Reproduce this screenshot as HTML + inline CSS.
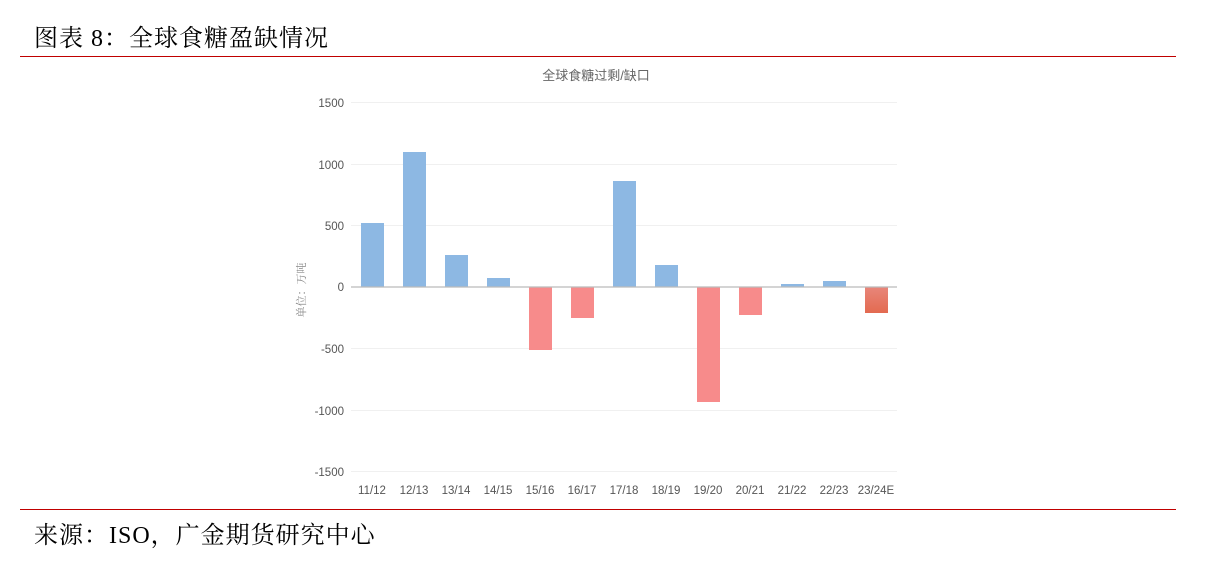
<!DOCTYPE html>
<html><head><meta charset="utf-8"><style>
body{margin:0;width:1206px;height:566px;background:#fff;overflow:hidden;position:relative;font-family:"Liberation Serif","Noto Serif CJK SC",serif}
.t{position:absolute;left:34px;top:18px;font-size:24px;color:#000;letter-spacing:1px}
.r{position:absolute;left:20px;width:1156px;height:1px;background:#c00000}
.s{position:absolute;left:34px;top:515px;font-size:24px;color:#000;letter-spacing:1px}
</style></head><body>
<div class="t">图表 8：全球食糖盈缺情况</div>
<div class="r" style="top:56px"></div>
<div class="r" style="top:509px"></div>
<div class="s">来源：ISO，广金期货研究中心</div>
<svg width="1206" height="566" style="position:absolute;left:0;top:0" font-family="Liberation Sans,Noto Sans CJK SC,sans-serif">
<defs><linearGradient id="g" x1="0" y1="0" x2="0" y2="1"><stop offset="0" stop-color="#e8867a"/><stop offset="1" stop-color="#e36a50"/></linearGradient></defs>
<text x="596" y="80" font-size="13" fill="#666" text-anchor="middle">全球食糖过剩/缺口</text>
<g stroke="#f0f0f0" stroke-width="1">
<line x1="351" x2="897" y1="102.5" y2="102.5"/><line x1="351" x2="897" y1="164.5" y2="164.5"/><line x1="351" x2="897" y1="225.5" y2="225.5"/><line x1="351" x2="897" y1="348.5" y2="348.5"/><line x1="351" x2="897" y1="410.5" y2="410.5"/><line x1="351" x2="897" y1="471.5" y2="471.5"/>
</g>
<g font-size="11.5" fill="#555" text-anchor="end">
<text x="344" y="107">1500</text><text x="344" y="169">1000</text><text x="344" y="230">500</text><text x="344" y="291">0</text><text x="344" y="353">-500</text><text x="344" y="415">-1000</text><text x="344" y="476">-1500</text>
</g>
<text transform="translate(305,290) rotate(-90)" font-size="11" fill="#888" text-anchor="middle" font-family="Liberation Serif,Noto Serif CJK SC,serif">单位：万吨</text>
<g fill="#8db8e3">
<rect x="361" y="223" width="23" height="64"/>
<rect x="403" y="152" width="23" height="135"/>
<rect x="445" y="255" width="23" height="32"/>
<rect x="487" y="278" width="23" height="9"/>
<rect x="613" y="181" width="23" height="106"/>
<rect x="655" y="265" width="23" height="22"/>
<rect x="781" y="284" width="23" height="3"/>
<rect x="823" y="281" width="23" height="6"/>
</g>
<g fill="#f78b8b">
<rect x="529" y="287" width="23" height="63"/>
<rect x="571" y="287" width="23" height="31"/>
<rect x="697" y="287" width="23" height="115"/>
<rect x="739" y="287" width="23" height="28"/>
</g>
<rect x="865" y="287" width="23" height="26" fill="url(#g)"/>
<line x1="351" x2="897" y1="287" y2="287" stroke="#bbb" stroke-width="1.2"/>
<g font-size="11.5" fill="#555" text-anchor="middle">
<text x="372" y="494">11/12</text><text x="414" y="494">12/13</text><text x="456" y="494">13/14</text><text x="498" y="494">14/15</text><text x="540" y="494">15/16</text><text x="582" y="494">16/17</text><text x="624" y="494">17/18</text><text x="666" y="494">18/19</text><text x="708" y="494">19/20</text><text x="750" y="494">20/21</text><text x="792" y="494">21/22</text><text x="834" y="494">22/23</text><text x="876" y="494">23/24E</text>
</g>
</svg>
</body></html>
